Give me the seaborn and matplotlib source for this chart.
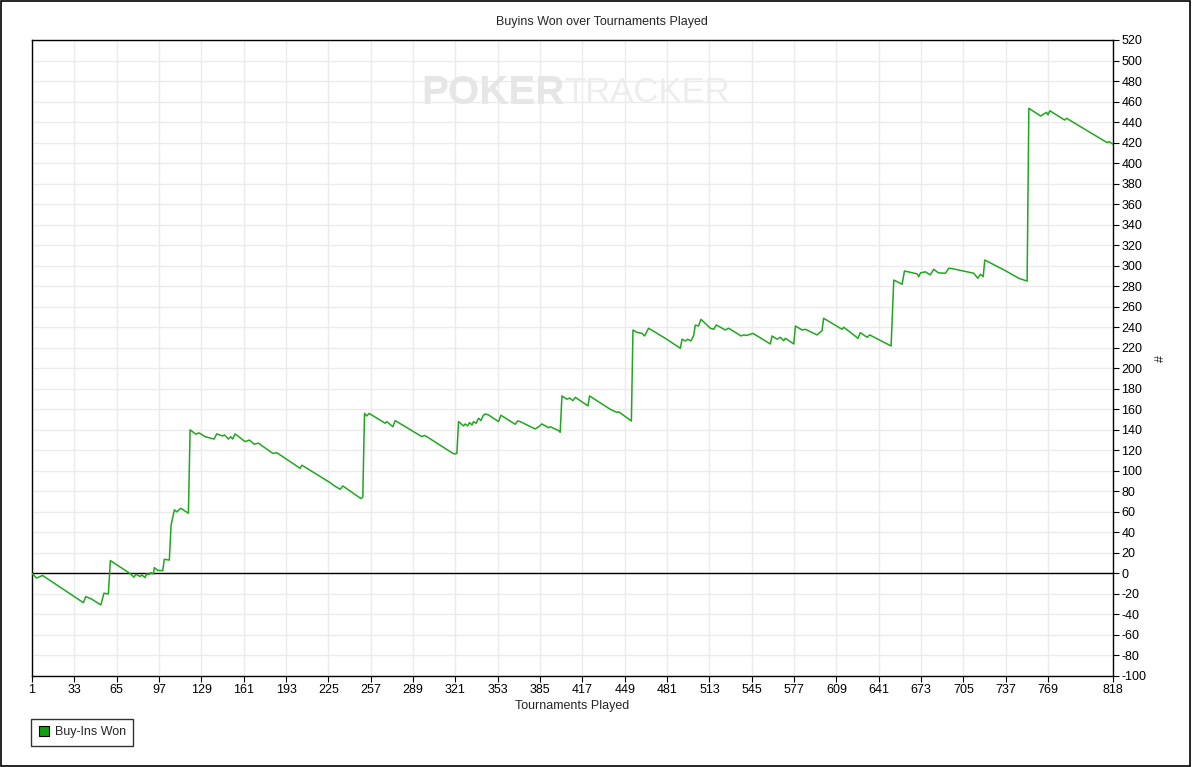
import matplotlib
matplotlib.use("Agg")
import matplotlib.pyplot as plt
from matplotlib.lines import Line2D
from matplotlib.patches import Rectangle
import seaborn as sns
import pandas as pd

# ---- data (vertices of the cumulative line) ----
tournament = [1, 4.5, 9, 39.8, 41.6, 46, 53, 55.4, 58.7, 60.2, 75, 78, 79.6, 82.7, 84, 86.4,
              87.7, 89.5, 90.7, 92.7, 93.5, 96, 99.8, 101, 104.8, 106.1, 108.6, 110.4, 113.4,
              119.2, 120.5, 124.8, 127.3, 131.8, 138.6, 140.6, 144.9, 146.5, 149.4, 151.2,
              152.7, 154.5, 162, 165.3, 168.9, 172.1, 183, 186, 203.6, 205, 226.3, 228.8,
              233.9, 235.9, 249.5, 251, 252.3, 254, 255.8, 267.9, 269.2, 273.7, 275.5, 278,
              295.7, 297.5, 299.4, 318.3, 320.1, 322.1, 323.4, 327.1, 328.4, 330.2, 331.7,
              333.5, 334.7, 336.7, 338.5, 340.3, 341.8, 343.5, 346, 353.6, 355.4, 366.2, 368,
              370, 381.3, 384, 386.4, 390.2, 391.5, 392.7, 399, 400.2, 401.5, 405.3, 407.3,
              409.8, 411.6, 421.2, 422.4, 438, 443, 444.5, 454, 455.2, 458.2, 462, 464, 467,
              479.6, 491, 492.3, 494.8, 496.5, 499, 501, 502.3, 504.8, 506.6, 513.7, 516.2,
              518.2, 525, 527.5, 536.9, 538.9, 541, 545.9, 559, 560.3, 564.1, 566.6, 569.1,
              570.4, 576.7, 578, 583, 585.5, 594.3, 598.1, 599.3, 613.2, 614.5, 625.3, 627,
              632.1, 634.1, 650.3, 652.3, 658.6, 660.4, 670, 671.2, 672.5, 676.3, 679.9,
              682.5, 686, 691.3, 693.9, 697, 712.8, 715.8, 717.8, 719.9, 721.1, 736.7, 746.8,
              753.1, 754.4, 763.3, 767.7, 768.8, 770.3, 781.4, 782.9, 813.6, 815, 818]
buyins_won = [0, -4.5, -2, -28.5, -22.6, -25, -30.7, -19.3, -20, 12.5, 0, -3.7, -0.8, -3, -1.5, -4,
              -0.5, -1, 0.8, -0.5, 5.7, 3, 2.7, 13.8, 13, 47, 62, 60, 63.5,
              58.7, 140, 135.7, 137, 133.3, 131, 136, 134, 135, 131, 133.3,
              131, 136, 128.5, 130, 126, 127, 117, 117.7, 102.5, 105.5, 88.5, 86,
              82, 85.3, 73, 74.3, 156, 153.5, 156, 146.4, 148, 143, 149, 147,
              133.3, 134.5, 133.3, 117.7, 116.5, 117, 148, 143.8, 145.7, 143.8, 147,
              144.7, 148, 146.4, 151.3, 149, 153.5, 155.5, 154.5, 148, 154.2, 145.4, 148.6,
              148, 140.8, 143, 145.7, 143, 142, 143, 139.2, 137.6, 173, 169.8, 171,
              168.4, 171.7, 163.3, 173, 160, 157, 157.5, 148.6, 237.3, 235, 234, 231.5, 239,
              229.2, 219.5, 228.3, 226.6, 228.3, 226.6, 231.5, 242, 241.2, 247.7, 239, 238,
              242.2, 237.3, 239, 231.5, 232.5, 232, 234, 223.7, 231.5, 228.3, 230.2, 226.9,
              229.2, 223.7, 241.2, 237.3, 238, 232.5, 236.7, 248.7, 238, 240, 229.2, 234.7,
              230.2, 232.5, 221.7, 286, 281.9, 294.8, 292, 289.3, 293, 294, 291,
              296.5, 293, 292.6, 297.5, 297, 292.6, 287.7, 291.6, 289.3, 305.5, 295.1, 287.7,
              285, 453.4, 445.9, 449.5, 447, 451, 442, 443.7, 419.9, 421, 418.3]

x_ticks = [1 + 32 * k for k in range(25)] + [818]
y_ticks = list(range(-100, 521, 20))

LINE_GREEN = "#1fa81f"

sns.set_style("white")
plt.rcParams["font.family"] = ["Liberation Sans", "DejaVu Sans"]

fig = plt.figure(figsize=(11.92, 7.67), dpi=100)
fig.patch.set_facecolor("white")
ax = fig.add_axes([32 / 1192, 1 - 676 / 767, (1113 - 32) / 1192, (676 - 40) / 767])

df = pd.DataFrame({"Tournaments Played": tournament, "Buy-Ins Won": buyins_won})
sns.lineplot(data=df, x="Tournaments Played", y="Buy-Ins Won", ax=ax,
             color=LINE_GREEN, linewidth=1.1, sort=False, estimator=None, zorder=3)

ax.axhline(0, color="black", linewidth=1.0, zorder=2)

ax.set_xlim(1, 818)
ax.set_ylim(-100, 520)
ax.set_xticks(x_ticks)
ax.set_xticklabels([str(t) for t in x_ticks])
ax.set_yticks(y_ticks)
ax.set_yticklabels([str(t) for t in y_ticks])
ax.yaxis.tick_right()
ax.yaxis.set_label_position("right")

ax.grid(True, color="#ebebeb", linewidth=1.0, zorder=0)
ax.set_axisbelow(True)
for s in ax.spines.values():
    s.set_color("black")
    s.set_linewidth(1.0)
    s.set_visible(True)

ax.tick_params(axis="both", which="both", direction="out", length=4, width=0.8,
               colors="black", labelsize=9, pad=2)
ax.tick_params(axis="y", left=False, right=True, labelleft=False, labelright=True)
ax.tick_params(axis="x", bottom=True)

ax.set_xlabel("Tournaments Played", fontsize=9, labelpad=3)
ax.set_ylabel("#", fontsize=9, labelpad=6, rotation=90)

# watermark
ax.text(0.360, 0.917, "POKER", transform=ax.transAxes, fontsize=29, fontweight="bold",
        color="#e6e6e6", ha="left", va="center", zorder=1)
ax.text(0.4925, 0.917, "TRACKER", transform=ax.transAxes, fontsize=25,
        color="#ededed", ha="left", va="center", zorder=1)

fig.text(602 / 1192, 1 - 22 / 767, "Buyins Won over Tournaments Played",
         ha="center", va="center", fontsize=9)

# legend box
handle = Line2D([], [], linestyle="none", marker="s", markersize=7,
                markerfacecolor="#10a010", markeredgecolor="black", markeredgewidth=0.8)
leg = fig.legend([handle], ["Buy-Ins Won"], loc="lower left",
                 bbox_to_anchor=(31 / 1192, 1 - 746 / 767), fontsize=9,
                 frameon=True, fancybox=False, borderpad=0.6, handlelength=0.8,
                 handletextpad=0.5, borderaxespad=0)
leg.get_frame().set_edgecolor("black")
leg.get_frame().set_linewidth(1.0)

# outer border of the image
fig.patches.append(Rectangle((0.0005, 0.0008), 0.998, 0.998, transform=fig.transFigure,
                             fill=False, edgecolor="black", linewidth=1.2))

fig.savefig("out.png", dpi=100, facecolor="white")
